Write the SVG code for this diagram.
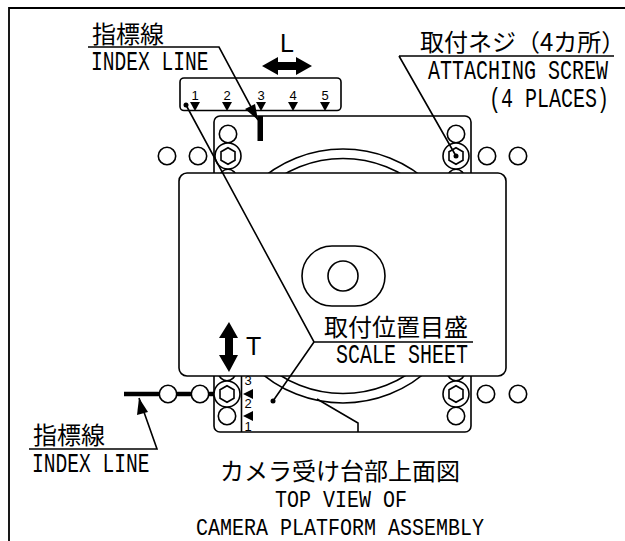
<svg xmlns="http://www.w3.org/2000/svg" width="625" height="541" viewBox="0 0 625 541">
<style>
.l{fill:none;stroke:#000;stroke-width:1.6}
.w{fill:#fff;stroke:#000;stroke-width:1.6}
.k{fill:#000;stroke:none}
.jp{font-family:"Noto Sans CJK JP","Noto Sans CJK SC",sans-serif;font-size:24px;fill:#000}
.en{font-family:"Liberation Mono",monospace;font-size:20px;fill:#000}
.n{font-family:"Liberation Sans",Arial,sans-serif;font-size:13px;fill:#000;text-anchor:middle}
.d{font-family:"Liberation Sans",Arial,sans-serif;font-size:25px;fill:#000}
</style>
<defs>
<g id="screw"><circle class="w" r="13"/><polygon class="w" points="0,-8.3 7,-4.2 7,4.2 0,8.3 -7,4.2 -7,-4.2"/></g>
<circle id="hole" class="w" r="8.7"/>
<polygon id="tv" class="k" points="-5,0 5,0 0,9"/>
<polygon id="tl" class="k" points="0,0 10,-5 10,5"/>
</defs>
<path id="frame" d="M9 541V8H625" fill="none" stroke="#000" stroke-width="1.8"/>
<g id="base-plate">
<rect class="w" x="214" y="116" width="257" height="316" rx="6"/>
<circle class="l" cx="343" cy="276" r="127"/>
<circle class="l" cx="343" cy="276" r="117.5"/>
<path class="l" d="M317 399L358 423V432"/>
<path class="l" d="M241.500 376V432"/>
</g>
<g id="bottom-index-mark"><path d="M124 394H214" stroke="#000" stroke-width="4.500" fill="none"/></g>
<g id="holes">
<use href="#hole" x="228" y="134"/><use href="#hole" x="228" y="178"/><use href="#hole" x="167" y="156"/><use href="#hole" x="198" y="156"/>
<use href="#hole" x="456" y="134"/><use href="#hole" x="456" y="178"/><use href="#hole" x="487" y="156"/><use href="#hole" x="518" y="156"/>
<use href="#hole" x="227" y="372"/><use href="#hole" x="227" y="416"/><use href="#hole" x="168" y="394"/><use href="#hole" x="200" y="394"/>
<use href="#hole" x="456" y="372"/><use href="#hole" x="456" y="416"/><use href="#hole" x="486" y="394"/><use href="#hole" x="518" y="394"/>
</g>
<g id="screws">
<use href="#screw" x="228" y="156"/><use href="#screw" x="456" y="156"/><use href="#screw" x="227" y="394"/><use href="#screw" x="456" y="394"/>
</g>
<g id="platform-card">
<rect class="w" x="179" y="173" width="327" height="203" rx="8"/>
<rect class="l" x="302" y="246" width="83" height="60" rx="30" ry="30"/>
<circle class="l" cx="343" cy="276" r="15"/>
</g>
<g id="scale-l">
<rect class="w" x="180" y="78" width="161" height="32.500" rx="4"/>
<use href="#tv" x="195" y="102"/><use href="#tv" x="227" y="102"/><use href="#tv" x="261" y="102"/><use href="#tv" x="293" y="102"/><use href="#tv" x="325" y="102"/>
<text class="n" x="195" y="100">1</text><text class="n" x="227" y="100">2</text><text class="n" x="261" y="100">3</text><text class="n" x="293" y="100">4</text><text class="n" x="325" y="100">5</text>
</g>
<g id="scale-t">
<use href="#tl" x="243" y="394"/><use href="#tl" x="243" y="416"/>
<text class="n" x="248" y="385">3</text><text class="n" x="248" y="408">2</text><text class="n" x="248" y="431">1</text>
</g>
<g id="top-index-mark"><rect class="k" x="257.500" y="116" width="5.500" height="25"/></g>
<g id="connectors">
<path class="l" d="M88 47H219L258 120"/>
<polygon class="k" points="258,120 245,109 255,104"/>
<path class="l" d="M29 449H157L139 398"/>
<polygon class="k" points="139,398 148,412 137,415"/>
<path class="l" d="M399 56H614M399 56L456 156"/>
<circle class="k" cx="456" cy="156" r="2.500"/>
<path class="l" d="M473 342H314L186 105M314 342L273 401"/>
<circle class="k" cx="186" cy="105" r="2.500"/>
<circle class="k" cx="273" cy="401" r="2.500"/>
</g>
<g id="arrow-L">
<polygon class="k" points="262,66 278,57 278,62 296,62 296,57 312,66 296,75 296,70 278,70 278,75"/>
<text class="d" x="280" y="52">L</text>
</g>
<g id="arrow-T">
<polygon class="k" points="229,322 238,338 233,338 233,355 238,355 229,372 219,355 225,355 225,338 219,338"/>
<text class="d" x="246" y="355">T</text>
</g>
<g id="label-index-top">
<text class="jp" x="92" y="43">指標線</text>
<text class="en" transform="translate(91 70) scale(.98 1.4)">INDEX LINE</text>
</g>
<g id="label-screw">
<text class="jp" x="420" y="51">取付ネジ（4カ所）</text>
<text class="en" transform="translate(428 79) scale(1 1.4)">ATTACHING SCREW</text>
<text class="en" transform="translate(489 107) scale(1 1.4)">(4 PLACES)</text>
</g>
<g id="label-scale">
<text class="jp" x="324" y="336">取付位置目盛</text>
<text class="en" transform="translate(336 363) scale(1 1.4)">SCALE SHEET</text>
</g>
<g id="label-index-bottom">
<text class="jp" x="33" y="444">指標線</text>
<text class="en" transform="translate(32 472) scale(.98 1.4)">INDEX LINE</text>
</g>
<g id="title">
<text class="jp" x="220" y="480">カメラ受け台部上面図</text>
<text class="en" transform="translate(275 506.500) scale(1 1.15)">TOP VIEW OF</text>
<text class="en" transform="translate(196 534.500) scale(1 1.15)">CAMERA PLATFORM ASSEMBLY</text>
</g>
</svg>
